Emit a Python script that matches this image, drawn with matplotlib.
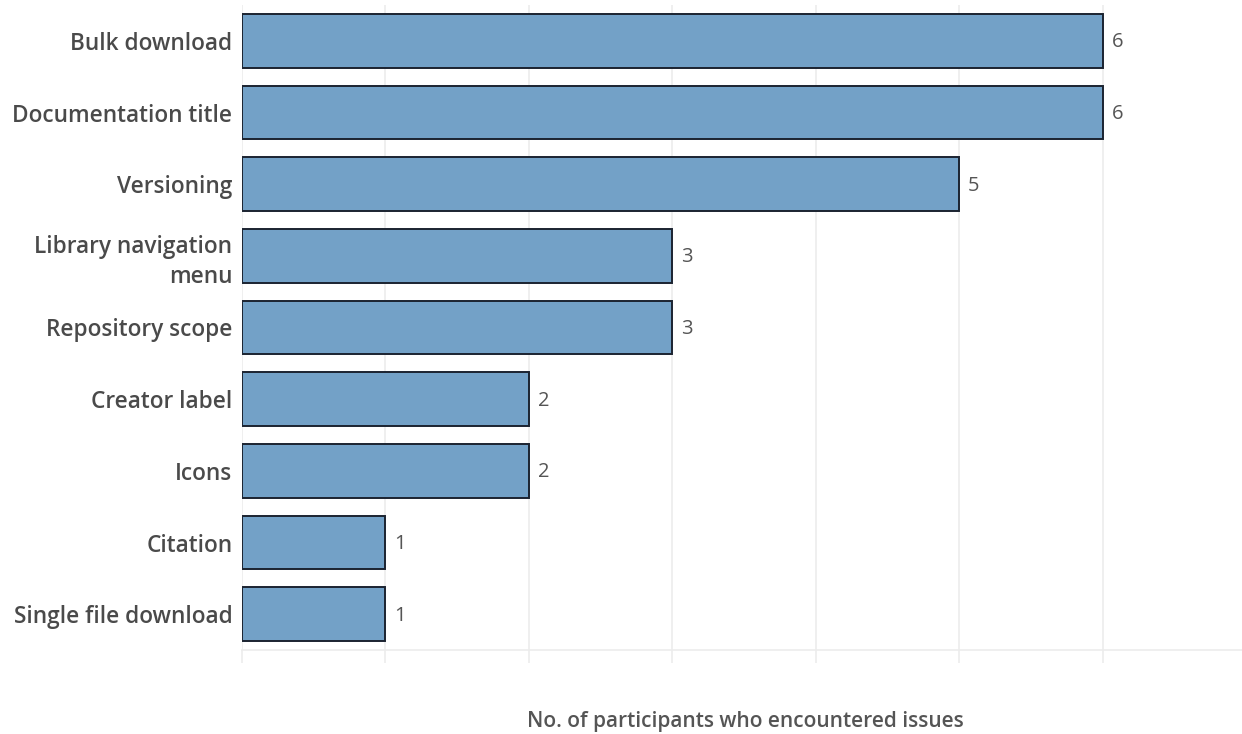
import matplotlib
matplotlib.use("Agg")
import matplotlib.pyplot as plt

categories = ["Bulk download", "Documentation title", "Versioning",
              "Library navigation\nmenu", "Repository scope", "Creator label",
              "Icons", "Citation", "Single file download"]
values = [6, 6, 5, 3, 3, 2, 2, 1, 1]
xticks = [0, 1, 2, 3, 4, 5, 6]

plt.rcParams['font.family'] = ['Open Sans', 'DejaVu Sans']

fig = plt.figure(figsize=(12.42, 7.34), dpi=100)
ax = fig.add_axes([242/1242, 1 - 650/734, 1000/1242, 645/734])

y = list(range(len(categories)))
ax.barh(y, values, height=0.75, color="#73a1c7", edgecolor="#1b2330", linewidth=1.4, zorder=3)
for yi, v in zip(y, values):
    ax.text(v + 0.06, yi + 0.02, str(v), va="center", ha="left", fontsize=14.5, color="#555555")

ax.set_ylim(len(categories) - 0.5, -0.5)
ax.set_xlim(0, 6.97)
ax.set_yticks(y)
ax.set_yticklabels(categories, fontsize=16.3, color="#4a4a4a", fontweight="semibold",
                   linespacing=1.35)
for lab in ax.get_yticklabels():
    lab.set_horizontalalignment("right")
    lab.set_multialignment("right")
ax.tick_params(axis="y", length=0, pad=7)
ax.set_xticks(xticks)
ax.set_xticklabels([])
ax.tick_params(axis="x", length=9, color="#ececec", width=1.2)
ax.grid(axis="x", color="#ececec", linewidth=1.2, zorder=0)
for s in ["top", "right", "left"]:
    ax.spines[s].set_visible(False)
ax.spines["bottom"].set_color("#ececec")
ax.spines["bottom"].set_linewidth(1.2)
fig.text(745/1242, 1 - 721/734, "No. of participants who encountered issues", fontsize=15,
         color="#555555", fontweight="semibold", ha="center", va="center")

fig.savefig("out.png", dpi=100)
